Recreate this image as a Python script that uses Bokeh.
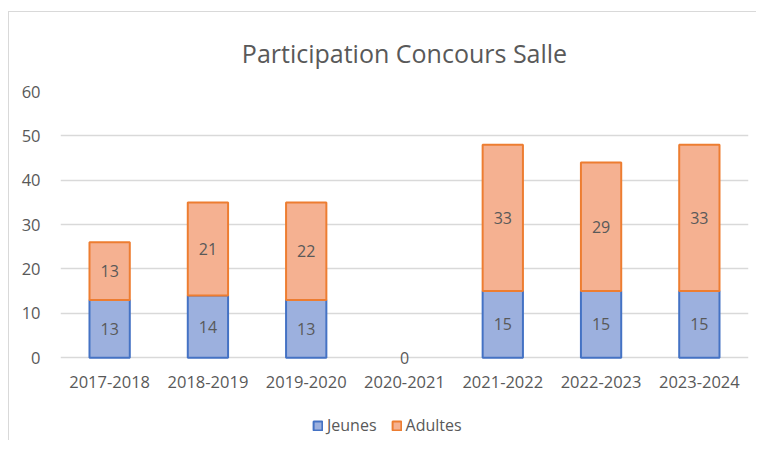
from bokeh.plotting import figure
from bokeh.models import ColumnDataSource, Legend, LegendItem, LabelSet, FixedTicker, Range1d
from bokeh.layouts import column
from bokeh.core.properties import value
from bokeh.embed import file_html
from bokeh.resources import INLINE

seasons = ["2017-2018", "2018-2019", "2019-2020", "2020-2021", "2021-2022", "2022-2023", "2023-2024"]
jeunes = [13, 14, 13, 0, 15, 15, 15]
adultes = [13, 21, 22, 0, 33, 29, 33]
y_ticks = [0, 10, 20, 30, 40, 50, 60]

FONT = "Open Sans"
GRAY = "#595959"
BLUE_FILL, BLUE_LINE = "#9cb0de", "#4472c4"
ORANGE_FILL, ORANGE_LINE = "#f5b191", "#ed7d31"

totals = [j + a for j, a in zip(jeunes, adultes)]
src = ColumnDataSource(dict(
    season=seasons,
    jeunes=jeunes,
    total=totals,
    j_alpha=[1 if v > 0 else 0 for v in jeunes],
    a_alpha=[1 if v > 0 else 0 for v in adultes],
))

# y range starts a little below 0 so the "0" data label is not clipped
p = figure(x_range=seasons, y_range=Range1d(-2, 60), width=747, height=396,
           output_backend="svg", toolbar_location=None,
           min_border_left=51, min_border_right=8, min_border_top=78, min_border_bottom=42)

rj = p.vbar(x="season", bottom=0, top="jeunes", width=0.41, source=src,
            fill_color=BLUE_FILL, line_color=BLUE_LINE, line_width=2, line_alpha="j_alpha")
ra = p.vbar(x="season", bottom="jeunes", top="total", width=0.41, source=src,
            fill_color=ORANGE_FILL, line_color=ORANGE_LINE, line_width=2, line_alpha="a_alpha")

# data labels at segment midpoints
jl = ColumnDataSource(dict(x=seasons, y=[v / 2 for v in jeunes], t=[str(v) for v in jeunes]))
ax, ay, at = [], [], []
for s, j, a in zip(seasons, jeunes, adultes):
    if a > 0:
        ax.append(s); ay.append(j + a / 2); at.append(str(a))
al = ColumnDataSource(dict(x=ax, y=ay, t=at))
for s in (jl, al):
    p.add_layout(LabelSet(x="x", y="y", text="t", source=s, text_align="center",
                          text_baseline="middle", text_color=GRAY,
                          text_font=value(FONT), text_font_size="16px"))

p.title.text = "Participation Concours Salle"
p.title.align = "center"
p.title.offset = -10
p.title.text_font = FONT
p.title.text_font_style = "normal"
p.title.text_font_size = "25px"
p.title.text_color = GRAY
p.title.standoff = 43

p.yaxis.ticker = FixedTicker(ticks=y_ticks)
p.ygrid.ticker = FixedTicker(ticks=y_ticks)
for ax_ in (p.xaxis[0], p.yaxis[0]):
    ax_.axis_line_color = None
    ax_.major_tick_line_color = None
    ax_.minor_tick_line_color = None
    ax_.major_label_text_color = GRAY
    ax_.major_label_text_font = FONT
    ax_.major_label_text_font_size = "16.5px"
p.xaxis.major_label_standoff = 3
p.yaxis.major_label_standoff = 14
p.xgrid.grid_line_color = None
p.ygrid.grid_line_color = "#d9d9d9"
p.ygrid.grid_line_width = 1.5
p.outline_line_color = None

# legend in its own strip below the chart (dummy renderers with no visible bar)
lg = figure(width=747, height=32, output_backend="svg", toolbar_location=None,
            x_axis_type=None, y_axis_type=None, min_border=0,
            x_range=Range1d(0, 1), y_range=Range1d(0, 1))
lg.outline_line_color = None
lg.xgrid.grid_line_color = None
lg.ygrid.grid_line_color = None
dummy = ColumnDataSource(dict(x=[0.5], top=[float("nan")]))
gj = lg.vbar(x="x", top="top", width=0.1, source=dummy,
             fill_color=BLUE_FILL, line_color=BLUE_LINE, line_width=2)
ga = lg.vbar(x="x", top="top", width=0.1, source=dummy,
             fill_color=ORANGE_FILL, line_color=ORANGE_LINE, line_width=2)
legend = Legend(items=[LegendItem(label="Jeunes", renderers=[gj]),
                       LegendItem(label="Adultes", renderers=[ga])],
                orientation="horizontal", location=(252, 4),
                label_text_font=FONT, label_text_font_size="16px", label_text_color=GRAY,
                glyph_width=11, glyph_height=11, spacing=14, label_standoff=4,
                border_line_color=None, background_fill_alpha=0, margin=0, padding=2)
lg.add_layout(legend, "center")

layout = column(p, lg, spacing=0, margin=(11, 0, 0, 8),
                styles={"border-top": "1px solid #d9d9d9", "border-left": "1px solid #d9d9d9"})

open("out.html", "w").write(file_html(layout, INLINE))
